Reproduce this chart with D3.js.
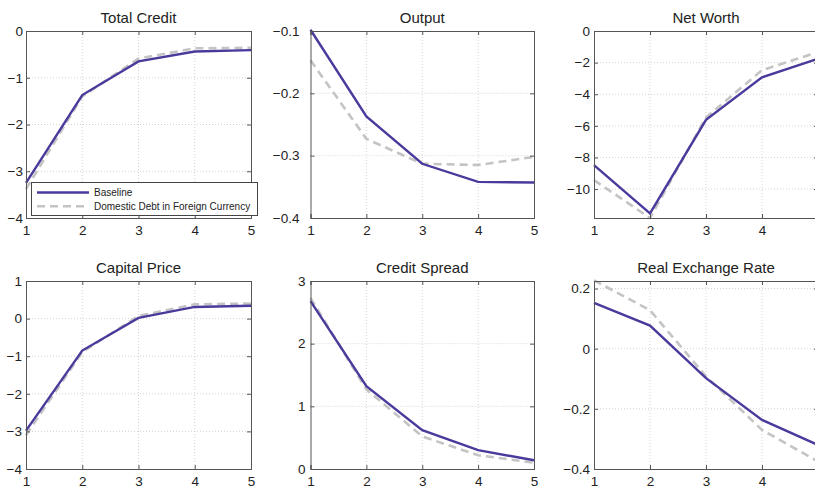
<!DOCTYPE html>
<html><head><meta charset="utf-8">
<script src="https://cdn.jsdelivr.net/npm/d3@7"></script>
<style>body{margin:0;background:#fff}svg{display:block}text{font-family:"Liberation Sans",Arial,Helvetica,sans-serif;fill:#222}</style>
</head><body>
<svg id="c" width="815" height="488"></svg>
<script>
const periods = [1, 2, 3, 4, 5];
const titles = ["Total Credit", "Output", "Net Worth", "Capital Price", "Credit Spread", "Real Exchange Rate"];
const seriesNames = ["Baseline", "Domestic Debt in Foreign Currency"];

const totalCreditBase = [-3.25, -1.37, -0.65, -0.44, -0.41];
const totalCreditFx   = [-3.38, -1.40, -0.59, -0.37, -0.36];
const outputBase = [-0.098, -0.237, -0.313, -0.342, -0.343];
const outputFx   = [-0.147, -0.273, -0.313, -0.315, -0.302];
const netWorthBase = [-8.48, -11.54, -5.62, -2.93, -1.75];
const netWorthFx   = [-9.43, -11.83, -5.47, -2.48, -1.33];
const capitalPriceBase = [-2.98, -0.85, 0.02, 0.31, 0.34];
const capitalPriceFx   = [-3.10, -0.89, 0.07, 0.38, 0.40];
const creditSpreadBase = [2.68, 1.32, 0.62, 0.30, 0.14];
const creditSpreadFx   = [2.73, 1.27, 0.52, 0.22, 0.10];
const rerBase = [0.152, 0.077, -0.098, -0.237, -0.32];
const rerFx   = [0.227, 0.128, -0.092, -0.27, -0.375];

const yDomains = [[-4, 0], [-0.4, -0.1], [-11.83, 0], [-4, 1], [0, 3], [-0.4, 0.225]];
const yTicks = [
  [-4, -3, -2, -1, 0],
  [-0.4, -0.3, -0.2, -0.1],
  [-10, -8, -6, -4, -2, 0],
  [-4, -3, -2, -1, 0, 1],
  [0, 1, 2, 3],
  [-0.4, -0.2, 0, 0.2]
];
const baseSeries = [totalCreditBase, outputBase, netWorthBase, capitalPriceBase, creditSpreadBase, rerBase];
const fxSeries = [totalCreditFx, outputFx, netWorthFx, capitalPriceFx, creditSpreadFx, rerFx];

const colX = [[26, 251], [310.5, 534], [594, 818]];
const rowY = [[31, 218], [281, 469]];
const yPad = [3, 11, 4, 4, 5, 4];
const baseColor = "#4a3a9c";
const fxColor = "#c4c4c4";
const frameColor = "#555";

const svg = d3.select("#c");
const fmt = v => (v < 0 ? "\u2212" : "") + Math.abs(v);

titles.forEach((t, i) => {
  const c = i % 3, r = Math.floor(i / 3);
  const [x0, x1] = colX[c], [y0, y1] = rowY[r];
  const x = d3.scaleLinear().domain([1, 5]).range([x0, x1]);
  const y = d3.scaleLinear().domain(yDomains[i]).range([y1, y0]);
  const g = svg.append("g");

  // grid
  g.selectAll(".gx").data(periods.slice(1, 4)).join("line")
    .attr("x1", d => x(d)).attr("x2", d => x(d)).attr("y1", y0).attr("y2", y1)
    .attr("stroke", "#c8c8c8").attr("stroke-width", 0.8).attr("stroke-dasharray", "1,2");
  g.selectAll(".gy").data(yTicks[i].filter(v => y(v) > y0 + 1 && y(v) < y1 - 1)).join("line")
    .attr("x1", x0).attr("x2", x1).attr("y1", d => y(d)).attr("y2", d => y(d))
    .attr("stroke", "#c8c8c8").attr("stroke-width", 0.8).attr("stroke-dasharray", "1,2");

  // lines
  const line = d3.line().x((d, k) => x(periods[k])).y(d => y(d));
  g.append("path").datum(fxSeries[i]).attr("d", line).attr("fill", "none")
    .attr("stroke", fxColor).attr("stroke-width", 2.6).attr("stroke-dasharray", "8,5");
  g.append("path").datum(baseSeries[i]).attr("d", line).attr("fill", "none")
    .attr("stroke", baseColor).attr("stroke-width", 2.4);

  // axes (MATLAB-like, inward ticks)
  const ax = d3.axisBottom(x).tickValues(periods).tickSize(-4).tickPadding(7).tickFormat(fmt);
  const axT = d3.axisTop(x).tickValues(periods).tickSize(-4).tickFormat("");
  const ay = d3.axisLeft(y).tickValues(yTicks[i]).tickSize(-4).tickPadding(yPad[i]).tickFormat(fmt);
  const ayR = d3.axisRight(y).tickValues(yTicks[i]).tickSize(-4).tickFormat("");
  const style = sel => {
    sel.select(".domain").attr("stroke", frameColor).attr("stroke-width", 1);
    sel.selectAll(".tick line").attr("stroke", frameColor);
    sel.selectAll(".tick text").attr("font-size", 13.5).attr("fill", "#222")
      .attr("font-family", "Liberation Sans, Arial, sans-serif");
  };
  g.append("g").attr("transform", `translate(0,${y1})`).call(ax).call(style);
  g.append("g").attr("transform", `translate(0,${y0})`).call(axT).call(style);
  g.append("g").attr("transform", `translate(${x0},0)`).call(ay).call(style);
  g.append("g").attr("transform", `translate(${x1},0)`).call(ayR).call(style);

  g.append("text").attr("x", (x0 + x1) / 2).attr("y", y0 - 8).attr("text-anchor", "middle")
    .attr("font-size", 15).text(t);

  if (i === 0) {
    const lg = svg.append("g");
    lg.append("rect").attr("x", 31.5).attr("y", 182.5).attr("width", 226).attr("height", 33)
      .attr("fill", "#fff").attr("stroke", "#444").attr("stroke-width", 1);
    const items = [[baseColor, null, 2.4], [fxColor, "8,5", 2.6]];
    seriesNames.forEach((n, k) => {
      const yy = 192.5 + k * 13.7;
      lg.append("line").attr("x1", 37).attr("x2", 89).attr("y1", yy).attr("y2", yy)
        .attr("stroke", items[k][0]).attr("stroke-width", items[k][2])
        .attr("stroke-dasharray", items[k][1]);
      lg.append("text").attr("x", 94).attr("y", yy + 3.6).attr("font-size", 10).text(n);
    });
  }
});
</script>
</body></html>
